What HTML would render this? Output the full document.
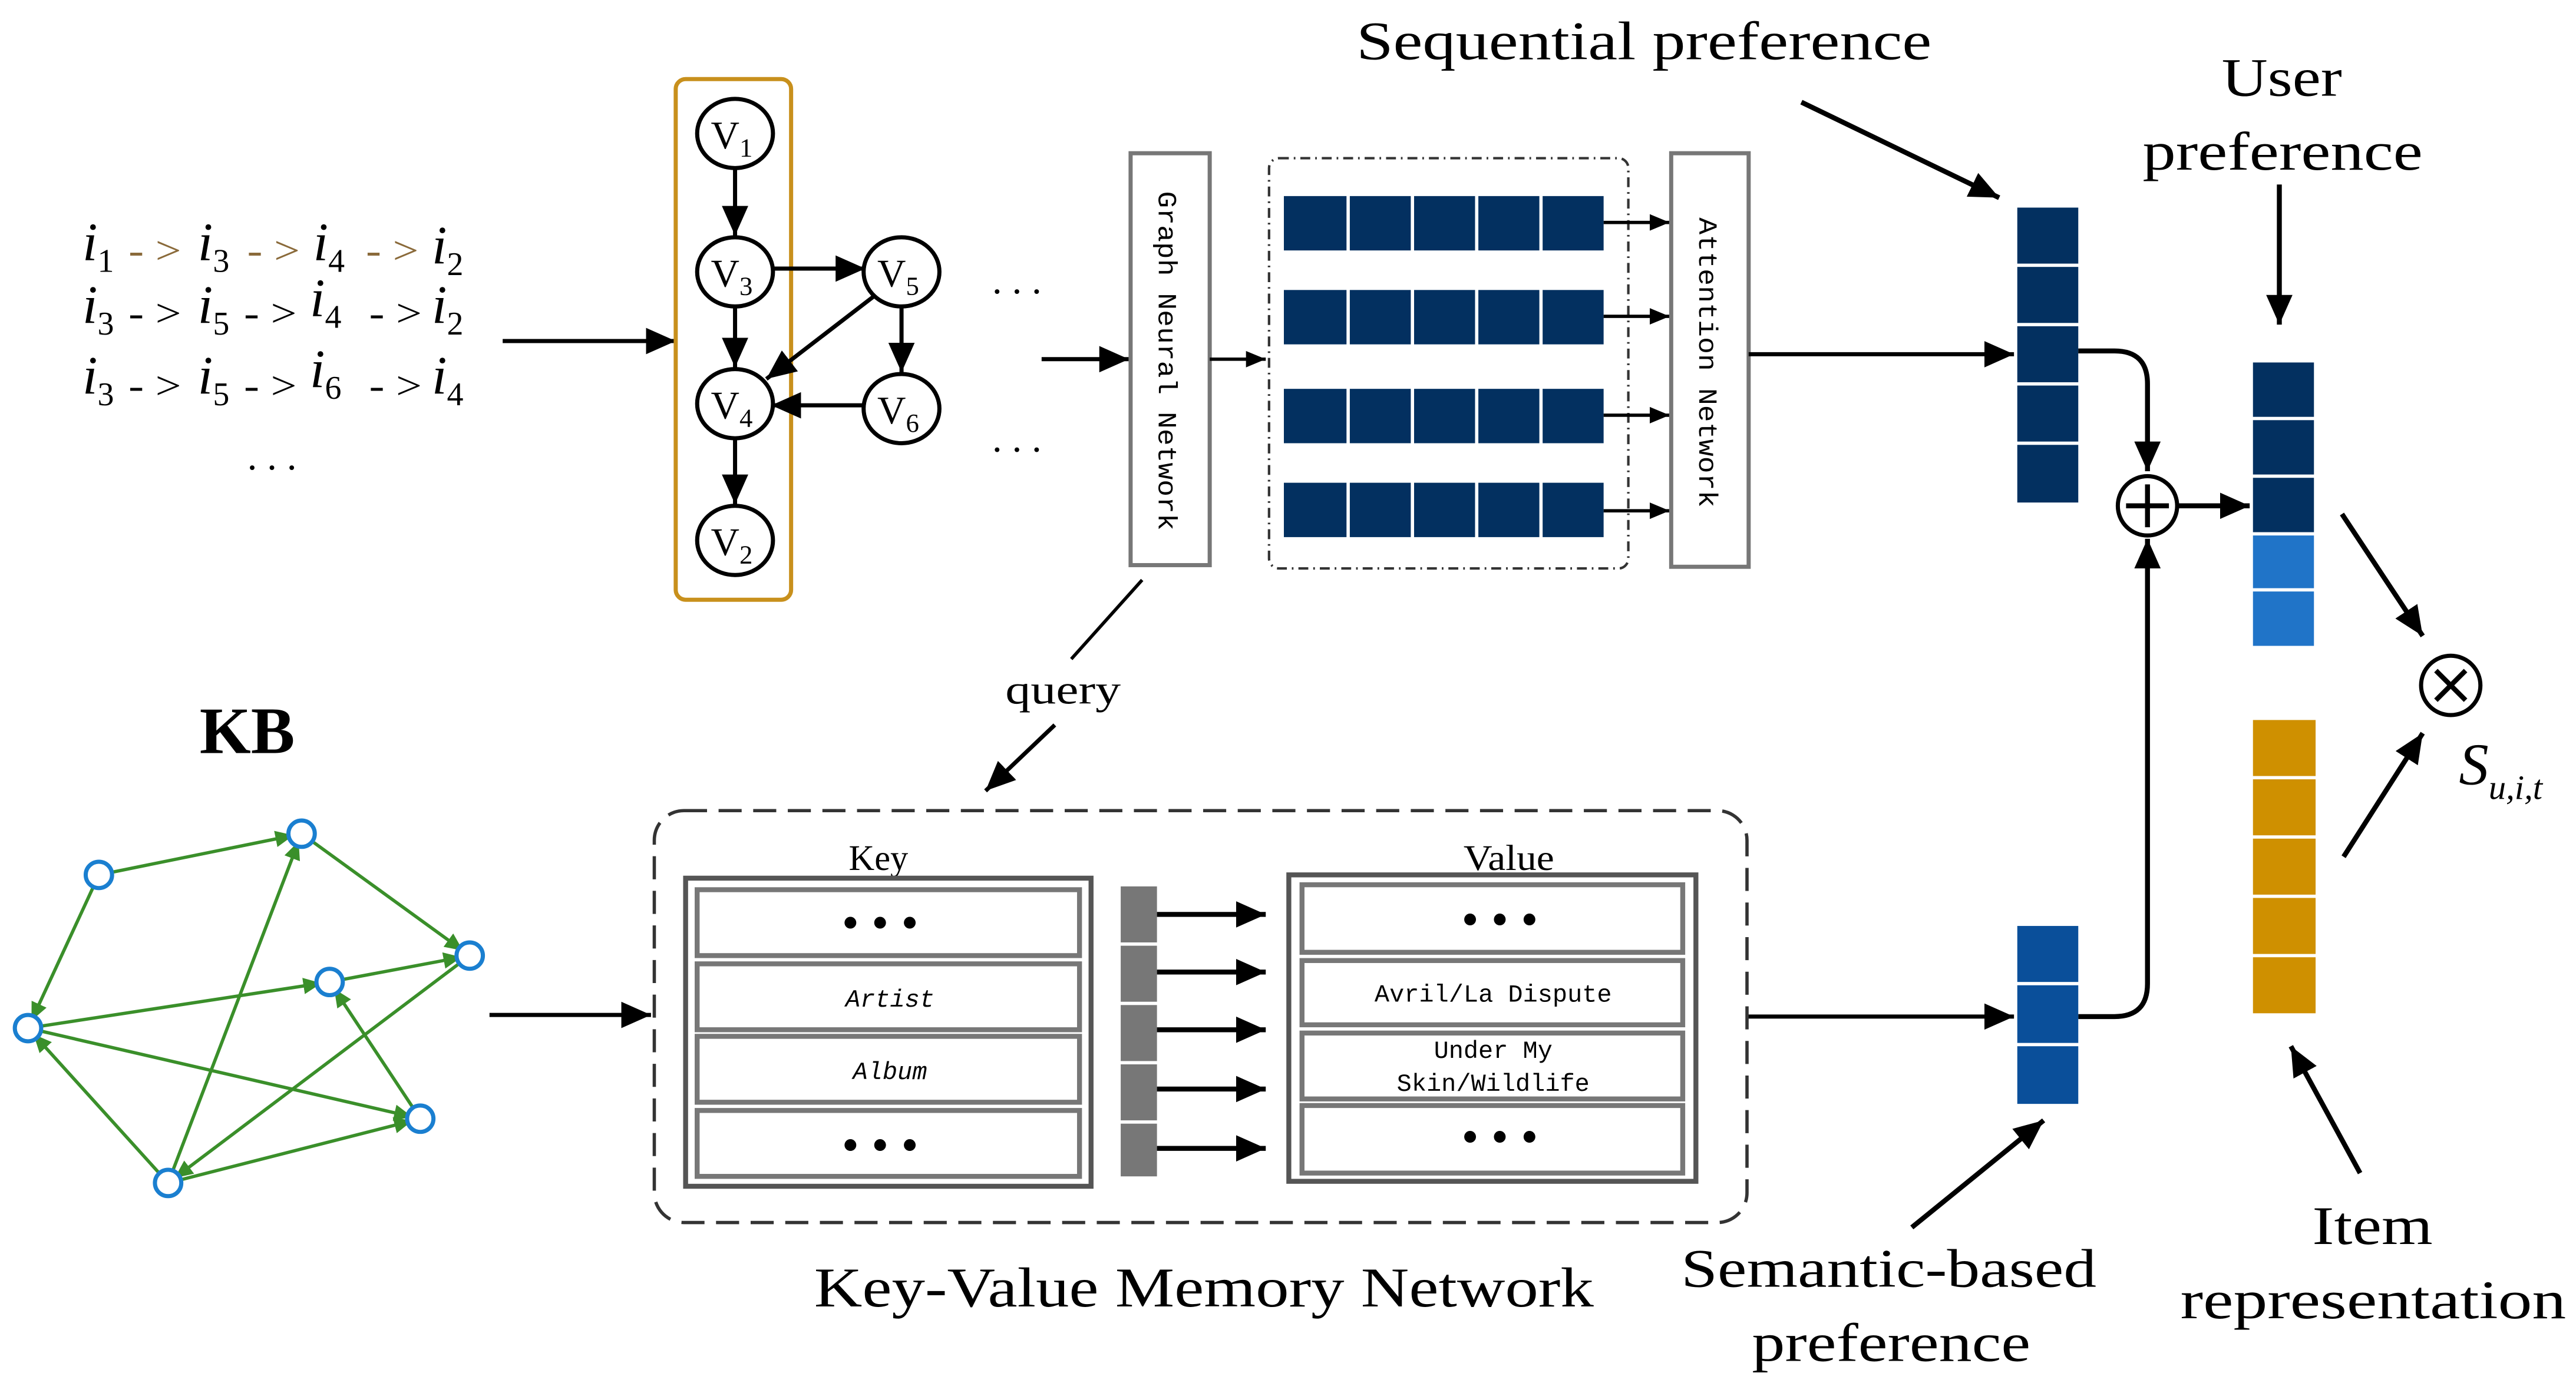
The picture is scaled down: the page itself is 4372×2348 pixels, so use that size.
<!DOCTYPE html>
<html><head><meta charset="utf-8"><style>html,body{margin:0;padding:0;background:#fff}svg{display:block}</style></head>
<body>
<svg width="4372" height="2348" viewBox="0 0 1563 839.4" xmlns="http://www.w3.org/2000/svg">
<defs>
<marker id="a" markerUnits="userSpaceOnUse" markerWidth="20" markerHeight="16" refX="18" refY="8" orient="auto"><path d="M0,0 L18,8 L0,16 z" fill="#000"/></marker>
<marker id="s" markerUnits="userSpaceOnUse" markerWidth="14" markerHeight="12" refX="12" refY="6" orient="auto"><path d="M0,1 L12,6 L0,11 z" fill="#000"/></marker>
<marker id="g" markerUnits="userSpaceOnUse" markerWidth="12" markerHeight="10" refX="16" refY="5" orient="auto"><path d="M0,0 L11,5 L0,10 z" fill="#3a8f2a"/></marker>
</defs>
<g font-family="Liberation Serif, serif" fill="#000">
<!-- sequences -->
<g font-size="33" font-style="italic">
<text x="50" y="158">i<tspan font-size="20" font-style="normal" dy="7">1</tspan></text>
<text x="120" y="158">i<tspan font-size="20" font-style="normal" dy="7">3</tspan></text>
<text x="190" y="158">i<tspan font-size="20" font-style="normal" dy="7">4</tspan></text>
<text x="262" y="160">i<tspan font-size="20" font-style="normal" dy="7">2</tspan></text>
<text x="50" y="196">i<tspan font-size="20" font-style="normal" dy="7">3</tspan></text>
<text x="120" y="196">i<tspan font-size="20" font-style="normal" dy="7">5</tspan></text>
<text x="188" y="192">i<tspan font-size="20" font-style="normal" dy="7">4</tspan></text>
<text x="262" y="196">i<tspan font-size="20" font-style="normal" dy="7">2</tspan></text>
<text x="50" y="239">i<tspan font-size="20" font-style="normal" dy="7">3</tspan></text>
<text x="120" y="239">i<tspan font-size="20" font-style="normal" dy="7">5</tspan></text>
<text x="188" y="235">i<tspan font-size="20" font-style="normal" dy="7">6</tspan></text>
<text x="262" y="239">i<tspan font-size="20" font-style="normal" dy="7">4</tspan></text>
</g>
<g font-size="24">
<text x="78" y="160" fill="#8a6a3a" textLength="32" lengthAdjust="spacingAndGlyphs">- &gt;</text><text x="150" y="160" fill="#8a6a3a" textLength="32" lengthAdjust="spacingAndGlyphs">- &gt;</text><text x="222" y="160" fill="#8a6a3a" textLength="32" lengthAdjust="spacingAndGlyphs">- &gt;</text>
<text x="78" y="198" textLength="32" lengthAdjust="spacingAndGlyphs">- &gt;</text><text x="148" y="198" textLength="32" lengthAdjust="spacingAndGlyphs">- &gt;</text><text x="224" y="198" textLength="32" lengthAdjust="spacingAndGlyphs">- &gt;</text>
<text x="78" y="242" textLength="32" lengthAdjust="spacingAndGlyphs">- &gt;</text><text x="148" y="242" textLength="32" lengthAdjust="spacingAndGlyphs">- &gt;</text><text x="224" y="242" textLength="32" lengthAdjust="spacingAndGlyphs">- &gt;</text>
<text x="150" y="285">. . .</text>
<text x="602" y="178">. . .</text>
<text x="602" y="274">. . .</text>
</g>
<line x1="305" y1="207" x2="410" y2="207" stroke="#000" stroke-width="2.5" marker-end="url(#a)"/>
<!-- graph -->
<rect x="410" y="48" width="70" height="316" rx="6" fill="none" stroke="#c8901c" stroke-width="2.5"/>
<g stroke="#000" stroke-width="2.5" fill="none">
<line x1="446" y1="102" x2="446" y2="143" marker-end="url(#a)"/>
<line x1="446" y1="187" x2="446" y2="223" marker-end="url(#a)"/>
<line x1="446" y1="267" x2="446" y2="306" marker-end="url(#a)"/>
<line x1="468" y1="163" x2="525" y2="163" marker-end="url(#a)"/>
<line x1="530" y1="180" x2="465" y2="230" marker-end="url(#a)"/>
<line x1="547" y1="187" x2="547" y2="226" marker-end="url(#a)"/>
<line x1="525" y1="246" x2="468" y2="246" marker-end="url(#a)"/>
<ellipse cx="446" cy="81" rx="23" ry="21" fill="#fff"/>
<ellipse cx="446" cy="165" rx="23" ry="21" fill="#fff"/>
<ellipse cx="446" cy="245" rx="23" ry="21" fill="#fff"/>
<ellipse cx="446" cy="328" rx="23" ry="21" fill="#fff"/>
<ellipse cx="547" cy="165" rx="23" ry="21" fill="#fff"/>
<ellipse cx="547" cy="248" rx="23" ry="21" fill="#fff"/>
</g>
<g font-size="24" text-anchor="middle">
<text x="444" y="90">V<tspan font-size="16" dy="5">1</tspan></text>
<text x="444" y="174">V<tspan font-size="16" dy="5">3</tspan></text>
<text x="444" y="254">V<tspan font-size="16" dy="5">4</tspan></text>
<text x="444" y="337">V<tspan font-size="16" dy="5">2</tspan></text>
<text x="545" y="174">V<tspan font-size="16" dy="5">5</tspan></text>
<text x="545" y="257">V<tspan font-size="16" dy="5">6</tspan></text>
</g>
<line x1="632" y1="218" x2="685" y2="218" stroke="#000" stroke-width="2.5" marker-end="url(#a)"/>
<rect x="686" y="93" width="48" height="250" fill="#fff" stroke="#777" stroke-width="2.5"/>
<text transform="translate(703,116) rotate(90)" font-family="Liberation Mono, monospace" font-size="16" textLength="206" lengthAdjust="spacingAndGlyphs">Graph Neural Network</text>
<line x1="734" y1="218" x2="768" y2="218" stroke="#000" stroke-width="2" marker-end="url(#s)"/>
<rect x="770" y="96" width="218" height="249" rx="6" fill="none" stroke="#333" stroke-width="1.5" stroke-dasharray="6,3,1,3"/>
<g fill="#033060">
<rect x="779" y="119" width="194" height="33"/><rect x="779" y="176" width="194" height="33"/>
<rect x="779" y="236" width="194" height="33"/><rect x="779" y="293" width="194" height="33"/>
</g>
<g stroke="#fff" stroke-width="2">
<line x1="818" y1="115" x2="818" y2="330"/><line x1="857" y1="115" x2="857" y2="330"/>
<line x1="896" y1="115" x2="896" y2="330"/><line x1="935" y1="115" x2="935" y2="330"/>
</g>
<g stroke="#000" stroke-width="2">
<line x1="973" y1="135" x2="1013" y2="135" marker-end="url(#s)"/>
<line x1="973" y1="192" x2="1013" y2="192" marker-end="url(#s)"/>
<line x1="973" y1="252" x2="1013" y2="252" marker-end="url(#s)"/>
<line x1="973" y1="310" x2="1013" y2="310" marker-end="url(#s)"/>
</g>
<rect x="1014" y="93" width="47" height="251" fill="#fff" stroke="#777" stroke-width="2.5"/>
<text transform="translate(1031,132) rotate(90)" font-family="Liberation Mono, monospace" font-size="16" textLength="176" lengthAdjust="spacingAndGlyphs">Attention Network</text>
<line x1="1061" y1="215" x2="1222" y2="215" stroke="#000" stroke-width="2.5" marker-end="url(#a)"/>
<text x="823" y="36" font-size="33" textLength="349" lengthAdjust="spacingAndGlyphs">Sequential preference</text>
<line x1="1093" y1="62" x2="1213" y2="120" stroke="#000" stroke-width="3" marker-end="url(#a)"/>
<!-- seq vector -->
<g fill="#033060"><rect x="1224" y="126" width="37" height="34"/><rect x="1224" y="162" width="37" height="34"/><rect x="1224" y="198" width="37" height="34"/><rect x="1224" y="234" width="37" height="34"/><rect x="1224" y="270" width="37" height="35"/></g>
<path d="M1261,213 H1283 Q1303,213 1303,233 V286" fill="none" stroke="#000" stroke-width="3" marker-end="url(#a)"/>
<circle cx="1303" cy="307" r="18" fill="#fff" stroke="#000" stroke-width="2.5"/>
<path d="M1290,307 H1316 M1303,294 V320" stroke="#000" stroke-width="3"/>
<line x1="1322" y1="307" x2="1365" y2="307" stroke="#000" stroke-width="3" marker-end="url(#a)"/>
<path d="M1261,617 H1283 Q1303,617 1303,597 V327" fill="none" stroke="#000" stroke-width="3" marker-end="url(#a)"/>
<!-- user vector -->
<text x="1348" y="58" font-size="33" textLength="73" lengthAdjust="spacingAndGlyphs">User</text>
<text x="1300" y="103" font-size="33" textLength="170" lengthAdjust="spacingAndGlyphs">preference</text>
<line x1="1383" y1="112" x2="1383" y2="197" stroke="#000" stroke-width="3" marker-end="url(#a)"/>
<g fill="#033060"><rect x="1367" y="220" width="37" height="33"/><rect x="1367" y="255" width="37" height="33"/><rect x="1367" y="290" width="37" height="33"/></g>
<g fill="#2074c8"><rect x="1367" y="325" width="37" height="32"/><rect x="1367" y="359" width="37" height="33"/></g>
<g fill="#cf9000"><rect x="1367" y="437" width="38" height="34"/><rect x="1367" y="473" width="38" height="34"/><rect x="1367" y="509" width="38" height="34"/><rect x="1367" y="545" width="38" height="34"/><rect x="1367" y="581" width="38" height="34"/></g>
<circle cx="1487" cy="416" r="18" fill="#fff" stroke="#000" stroke-width="2.5"/>
<path d="M1478,407 L1496,425 M1496,407 L1478,425" stroke="#000" stroke-width="3"/>
<line x1="1421" y1="312" x2="1470" y2="386" stroke="#000" stroke-width="3" marker-end="url(#a)"/>
<line x1="1422" y1="520" x2="1470" y2="445" stroke="#000" stroke-width="3" marker-end="url(#a)"/>
<text x="1492" y="476" font-size="36" font-style="italic">S<tspan font-size="21" dy="9">u,i,t</tspan></text>
<line x1="1432" y1="712" x2="1390" y2="635" stroke="#000" stroke-width="3" marker-end="url(#a)"/>
<text x="1403" y="755" font-size="33" textLength="73" lengthAdjust="spacingAndGlyphs">Item</text>
<text x="1323" y="800" font-size="33" textLength="234" lengthAdjust="spacingAndGlyphs">representation</text>
<!-- semantic vector -->
<g fill="#0a4f9a"><rect x="1224" y="562" width="37" height="34"/><rect x="1224" y="598" width="37" height="35"/><rect x="1224" y="635" width="37" height="35"/></g>
<line x1="1060" y1="617" x2="1222" y2="617" stroke="#000" stroke-width="2.5" marker-end="url(#a)"/>
<text x="1020" y="781" font-size="33" textLength="252" lengthAdjust="spacingAndGlyphs">Semantic-based</text>
<text x="1063" y="826" font-size="33" textLength="169" lengthAdjust="spacingAndGlyphs">preference</text>
<line x1="1160" y1="745" x2="1240" y2="680" stroke="#000" stroke-width="3" marker-end="url(#a)"/>
<!-- query -->
<line x1="693" y1="352" x2="650" y2="400" stroke="#000" stroke-width="2"/>
<text x="610" y="427" font-size="25" textLength="70" lengthAdjust="spacingAndGlyphs">query</text>
<line x1="640" y1="440" x2="598" y2="480" stroke="#000" stroke-width="2.5" marker-end="url(#a)"/>
<text x="150" y="457" font-size="40" font-weight="bold" text-anchor="middle">KB</text>
<!-- KB graph -->
<g stroke="#3a8f2a" stroke-width="2" fill="none">
<line x1="60" y1="531" x2="183" y2="506" marker-end="url(#g)"/>
<line x1="60" y1="531" x2="17" y2="624" marker-end="url(#g)"/>
<line x1="183" y1="506" x2="285" y2="580" marker-end="url(#g)"/>
<line x1="200" y1="596" x2="285" y2="580" marker-end="url(#g)"/>
<line x1="17" y1="624" x2="200" y2="596" marker-end="url(#g)"/>
<line x1="17" y1="624" x2="255" y2="679" marker-end="url(#g)"/>
<line x1="102" y1="718" x2="17" y2="624" marker-end="url(#g)"/>
<line x1="102" y1="718" x2="183" y2="506" marker-end="url(#g)"/>
<line x1="102" y1="718" x2="255" y2="679" marker-end="url(#g)"/>
<line x1="285" y1="580" x2="102" y2="718" marker-end="url(#g)"/>
<line x1="255" y1="679" x2="200" y2="596" marker-end="url(#g)"/>
</g>
<g fill="#fff" stroke="#1a7fd0" stroke-width="2.5">
<circle cx="60" cy="531" r="8"/><circle cx="183" cy="506" r="8"/><circle cx="285" cy="580" r="8"/><circle cx="200" cy="596" r="8"/><circle cx="17" cy="624" r="8"/><circle cx="255" cy="679" r="8"/><circle cx="102" cy="718" r="8"/>
</g>
<line x1="297" y1="616" x2="395" y2="616" stroke="#000" stroke-width="2.5" marker-end="url(#a)"/>
<!-- KV memory -->
<rect x="397" y="492" width="663" height="250" rx="18" fill="none" stroke="#333" stroke-width="2" stroke-dasharray="14,7"/>
<text x="515" y="528" font-size="22" textLength="36" lengthAdjust="spacingAndGlyphs">Key</text>
<text x="888" y="528" font-size="22" textLength="55" lengthAdjust="spacingAndGlyphs">Value</text>
<rect x="416" y="533" width="246" height="187" fill="#fff" stroke="#555" stroke-width="3"/>
<g fill="#fff" stroke="#777" stroke-width="3">
<rect x="423" y="540" width="232" height="40"/><rect x="423" y="585" width="232" height="40"/><rect x="423" y="629" width="232" height="40"/><rect x="423" y="674" width="232" height="40"/>
</g>
<rect x="782" y="531" width="247" height="186" fill="#fff" stroke="#555" stroke-width="3"/>
<g fill="#fff" stroke="#777" stroke-width="3">
<rect x="790" y="537" width="231" height="41"/><rect x="790" y="583" width="231" height="39"/><rect x="790" y="627" width="231" height="40"/><rect x="790" y="671" width="231" height="41"/>
</g>
<g font-size="30" text-anchor="middle"><text x="534" y="570">• • •</text><text x="534" y="705">• • •</text><text x="910" y="568">• • •</text><text x="910" y="700">• • •</text></g>
<g font-family="Liberation Mono, monospace" font-size="15" text-anchor="middle">
<text x="540" y="611" font-style="italic">Artist</text>
<text x="540" y="655" font-style="italic">Album</text>
<text x="906" y="608">Avril/La Dispute</text>
<text x="906" y="642">Under My</text>
<text x="906" y="662">Skin/Wildlife</text>
</g>
<g fill="#777"><rect x="680" y="538" width="22" height="34"/><rect x="680" y="574" width="22" height="34"/><rect x="680" y="610" width="22" height="34"/><rect x="680" y="646" width="22" height="34"/><rect x="680" y="682" width="22" height="32"/></g>
<g stroke="#000" stroke-width="3">
<line x1="702" y1="555" x2="768" y2="555" marker-end="url(#a)"/>
<line x1="702" y1="590" x2="768" y2="590" marker-end="url(#a)"/>
<line x1="702" y1="625" x2="768" y2="625" marker-end="url(#a)"/>
<line x1="702" y1="661" x2="768" y2="661" marker-end="url(#a)"/>
<line x1="702" y1="697" x2="768" y2="697" marker-end="url(#a)"/>
</g>
<text x="494" y="793" font-size="34" textLength="473" lengthAdjust="spacingAndGlyphs">Key-Value Memory Network</text>
</g>
</svg>
</body></html>
